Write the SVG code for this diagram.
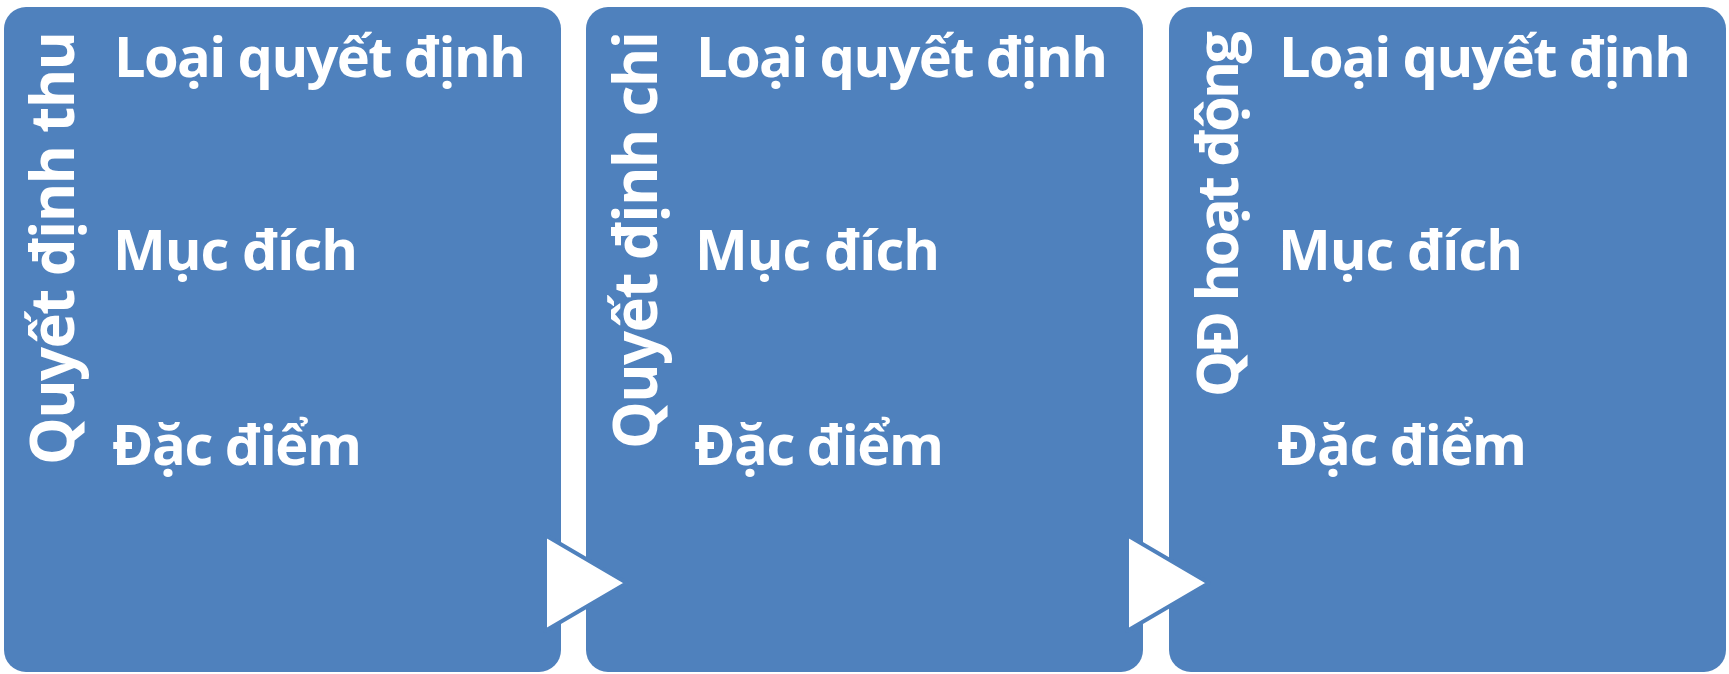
<svg xmlns="http://www.w3.org/2000/svg" width="1729" height="674" viewBox="0 0 1729 674">
<style>
.box{fill:#4F81BD}
.t{font-family:"Open Sans","Noto Sans","DejaVu Sans",sans-serif;font-weight:bold;fill:#FFFFFF}
.b{font-size:56px}
.h{font-size:60px}
.arr{fill:#FFFFFF;stroke:#4F81BD;stroke-width:4;stroke-linejoin:round}
</style>
<rect width="1729" height="674" fill="#FFFFFF"/>
<g id="node1">
<rect class="box" x="4" y="7" width="557" height="665" rx="22"/>
<text class="t h" transform="translate(74,465) rotate(-90)" textLength="434" lengthAdjust="spacing">Quyết định thu</text>
<text class="t b" x="114" y="77" textLength="412" lengthAdjust="spacing">Loại quyết định</text>
<text class="t b" x="113" y="270" textLength="245" lengthAdjust="spacing">Mục đích</text>
<text class="t b" x="112" y="465" textLength="250" lengthAdjust="spacing">Đặc điểm</text>
</g>
<g id="node2">
<rect class="box" x="586" y="7" width="557" height="665" rx="22"/>
<text class="t h" transform="translate(657,449) rotate(-90)" textLength="418" lengthAdjust="spacing">Quyết định chi</text>
<text class="t b" x="696" y="77" textLength="412" lengthAdjust="spacing">Loại quyết định</text>
<text class="t b" x="695" y="270" textLength="245" lengthAdjust="spacing">Mục đích</text>
<text class="t b" x="694" y="465" textLength="250" lengthAdjust="spacing">Đặc điểm</text>
</g>
<g id="node3">
<rect class="box" x="1169" y="7" width="557" height="665" rx="22"/>
<text class="t h" transform="translate(1238,397) rotate(-90)" textLength="366" lengthAdjust="spacing" style="font-size:58px">QĐ hoạt động</text>
<text class="t b" x="1279" y="77" textLength="412" lengthAdjust="spacing">Loại quyết định</text>
<text class="t b" x="1278" y="270" textLength="245" lengthAdjust="spacing">Mục đích</text>
<text class="t b" x="1277" y="465" textLength="250" lengthAdjust="spacing">Đặc điểm</text>
</g>
<g id="connectors">
<polygon class="arr" points="545,535 545,631 627,583"/>
<polygon class="arr" points="1127,535 1127,631 1209,583"/>
</g>
</svg>
